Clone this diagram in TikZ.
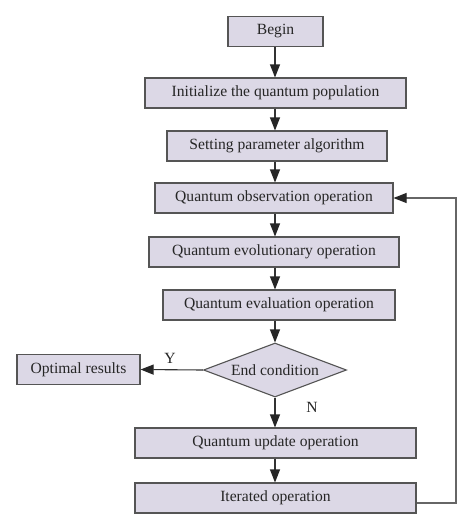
\documentclass[tikz,border=0pt]{standalone}
\usepackage{fontspec}
\setmainfont{Liberation Serif}
\usetikzlibrary{arrows.meta,shapes.geometric}
\definecolor{boxfill}{HTML}{DCD8E6}
\definecolor{boxline}{HTML}{555555}
\definecolor{lineclr}{HTML}{666666}
\begin{document}
\begin{tikzpicture}[x=1pt,y=-1pt,
  stepbox/.style={draw=boxline,line width=1.1pt,fill=boxfill,minimum height=30pt,inner sep=0pt,font=\fontsize{15.6}{18}\selectfont,text=black!85},
  decide/.style={diamond,draw=boxline,line width=1.1pt,fill=boxfill,minimum width=143pt,minimum height=54pt,inner sep=0pt,aspect=2.65,font=\fontsize{15.6}{18}\selectfont,text=black!85},
  conn/.style={draw=black!80,line width=1.1pt,-{Triangle[length=13pt,width=10pt,color=black!85]}},
  back/.style={draw=lineclr,line width=1.1pt,-{Triangle[length=13pt,width=10pt,color=black!85]}},
  lbl/.style={font=\fontsize{15.6}{18}\selectfont,text=black!85}]
\useasboundingbox[fill=white] (0,0) rectangle (474,530);
\coordinate (sp) at (275,0);
\node[stepbox,minimum width=95pt] (begin) at (275.5,31.5) {Begin};
\node[stepbox,minimum width=261pt] (init) at (275.5,93) {Initialize the quantum population};
\node[stepbox,minimum width=220pt] (set) at (277,146) {Setting parameter algorithm};
\node[stepbox,minimum width=238pt] (obs) at (274,198) {Quantum observation operation};
\node[stepbox,minimum width=250pt] (evo) at (274,252) {Quantum evolutionary operation};
\node[stepbox,minimum width=232pt] (eval) at (279,305) {Quantum evaluation operation};
\node[decide] (end) at (275,370) {End condition};
\node[stepbox,minimum width=123pt] (opt) at (78.5,369.5) {Optimal results};
\node[stepbox,minimum width=281pt] (upd) at (275.5,443) {Quantum update operation};
\node[stepbox,minimum width=281pt] (iter) at (275.5,498) {Iterated operation};
\node[lbl] (y) at (170,358) {Y};
\node[lbl] (n) at (312,407) {N};
\coordinate (fb) at (456,0);
\draw[conn] (begin.south -| sp) -- (init.north -| sp);
\draw[conn] (init.south -| sp) -- (set.north -| sp);
\draw[conn] (set.south -| sp) -- (obs.north -| sp);
\draw[conn] (obs.south -| sp) -- (evo.north -| sp);
\draw[conn] (evo.south -| sp) -- (eval.north -| sp);
\draw[conn] (eval.south -| sp) -- (end.north);
\draw[conn] (end.west) -- (opt.east);
\draw[conn] (end.south) -- (upd.north -| sp);
\draw[conn] (upd.south -| sp) -- (iter.north -| sp);
\draw[back] ([yshift=-5pt]iter.east) -| (fb |- obs.east) -- (obs.east);
\end{tikzpicture}
\end{document}
